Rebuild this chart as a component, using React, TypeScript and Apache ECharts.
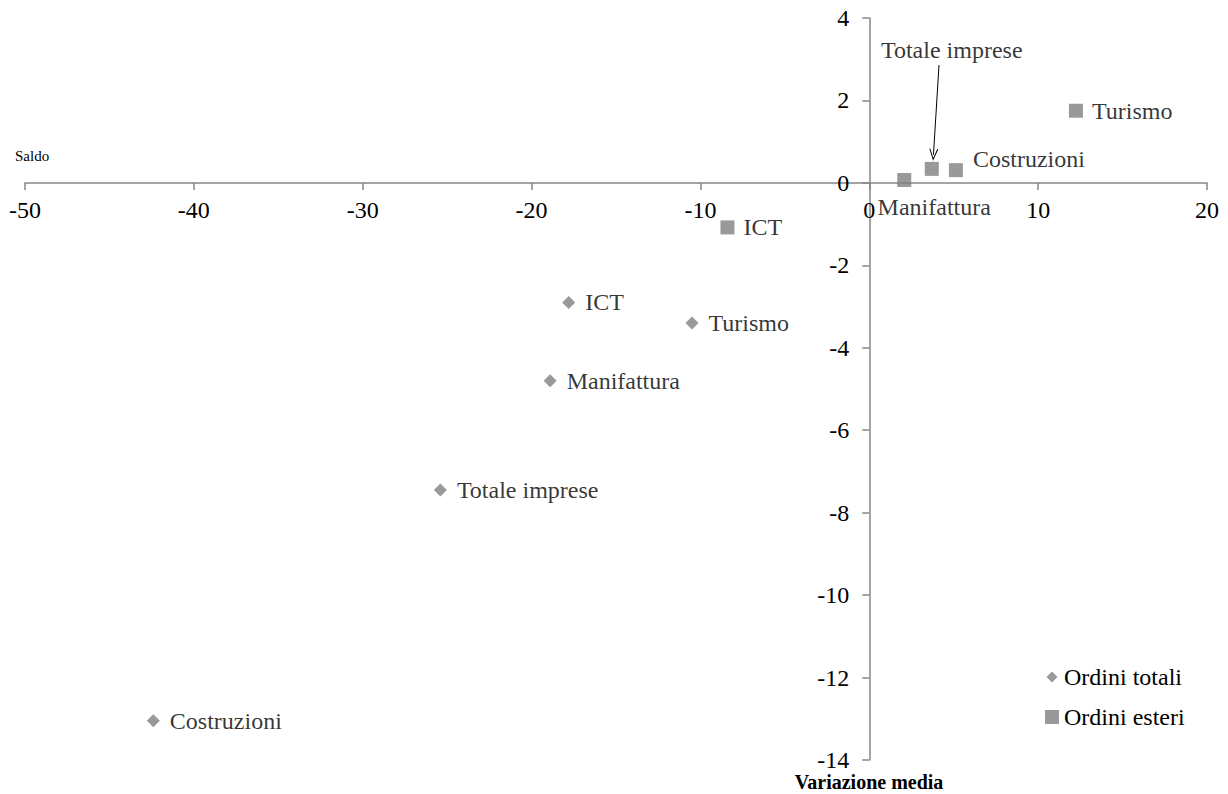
import React, { useEffect, useRef } from "react";
import * as echarts from "echarts";

const xTicks = { min: -50, max: 20, interval: 10 };
const yTicks = { min: -14, max: 4, interval: 2 };

const seriesNames = ["Ordini totali", "Ordini esteri"];

const totaliSectors = ["ICT", "Turismo", "Manifattura", "Totale imprese", "Costruzioni"];
const totaliX = [-17.8, -10.5, -18.9, -25.4, -42.4];
const totaliY = [-2.9, -3.4, -4.8, -7.45, -13.05];

const esteriSectors = ["ICT", "Manifattura", "Totale imprese", "Costruzioni", "Turismo"];
const esteriX = [-8.4, 2.07, 3.7, 5.13, 12.24];
const esteriY = [-1.08, 0.07, 0.34, 0.31, 1.75];

// annotation arrow pointing at "Totale imprese" (Ordini esteri)
const arrowFrom = [4.13, 2.86];
const arrowTo = [3.8, 0.68];

const FONT = '"Liberation Serif", "Times New Roman", serif';
const GREY = "#808080";
const AXIS = "#868686";

const GRID = { left: 25, right: 21, top: 18, bottom: 34 };
const W = 1228;
const H = 794;

const esteriLabel: Record<string, any> = {
  Manifattura: { position: "bottom", distance: 8, offset: [30, 0] },
  "Totale imprese": { position: "top", distance: 100, offset: [20, 0] },
  Costruzioni: { position: "right", distance: 10, offset: [0, -11] },
};

export default function App() {
  const ref = useRef<HTMLDivElement>(null);
  useEffect(() => {
    if (!ref.current) return;
    const chart = echarts.init(ref.current, undefined, { renderer: "svg" });
    const labelBase = {
      show: true,
      formatter: "{b}",
      color: "#000",
      fontSize: 24,
      fontFamily: FONT,
    };
    const option: any = {
      animation: false,
      textStyle: { fontFamily: FONT },
      grid: { ...GRID, containLabel: false, outerBoundsMode: "none" },
      xAxis: {
        type: "value",
        position: "bottom",
        min: xTicks.min,
        max: xTicks.max,
        interval: xTicks.interval,
        splitLine: { show: false },
        axisLine: { show: true, onZero: false, lineStyle: { color: AXIS, width: 1.5 } },
        axisTick: { show: true, length: 7, lineStyle: { color: AXIS, width: 1.5 } },
        axisLabel: { color: "#000", fontSize: 24, fontFamily: FONT, margin: 15 },
      },
      yAxis: {
        type: "value",
        position: "left",
        min: yTicks.min,
        max: yTicks.max,
        interval: yTicks.interval,
        splitLine: { show: false },
        axisLine: { show: true, onZero: false, lineStyle: { color: AXIS, width: 1.5 } },
        axisTick: { show: true, length: 7, lineStyle: { color: AXIS, width: 1.5 } },
        axisLabel: { color: "#000", fontSize: 24, fontFamily: FONT, margin: 20 },
      },
      legend: {
        orient: "vertical",
        left: 1040,
        top: 660,
        itemWidth: 14,
        itemHeight: 14,
        itemGap: 16,
        textStyle: { color: "#000", fontSize: 24, fontFamily: FONT },
        data: [
          {
            name: seriesNames[0],
            icon: "path://M0,0 M14,14 M7,1.5 L12.5,7 L7,12.5 L1.5,7 Z",
          },
          { name: seriesNames[1], icon: "rect" },
        ],
      },
      graphic: [
        {
          type: "text",
          x: 15,
          y: 156,
          style: {
            text: "Saldo",
            fill: "#000",
            font: `15px ${FONT}`,
            textAlign: "left",
            textVerticalAlign: "middle",
          },
        },
        {
          type: "text",
          x: 869,
          y: 782,
          style: {
            text: "Variazione media",
            fill: "#000",
            font: `bold 20px ${FONT}`,
            textAlign: "center",
            textVerticalAlign: "middle",
          },
        },
      ],
      series: [
        {
          name: seriesNames[0],
          type: "scatter",
          symbol: "diamond",
          symbolSize: 13,
          itemStyle: { color: GREY },
          label: { ...labelBase, position: "right", distance: 10 },
          data: totaliSectors.map((s, i) => ({ name: s, value: [totaliX[i], totaliY[i]] })),
        },
        {
          name: seriesNames[1],
          type: "scatter",
          symbol: "rect",
          symbolSize: 14,
          itemStyle: { color: GREY },
          label: { ...labelBase, position: "right", distance: 9 },
          data: esteriSectors.map((s, i) => ({
            name: s,
            value: [esteriX[i], esteriY[i]],
            label: esteriLabel[s] ? { ...labelBase, ...esteriLabel[s] } : undefined,
          })),
          markLine: {
            silent: true,
            animation: false,
            symbol: ["none", "path://M5,0 L10,10 L8.8,10 L5,2.4 L1.2,10 L0,10 Z"],
            symbolSize: [9, 12],
            label: { show: false },
            lineStyle: { color: "#000", width: 1, type: "solid" },
            emphasis: { disabled: true },
            data: [[{ coord: arrowFrom }, { coord: arrowTo }]],
          },
        },
      ],
    };
    chart.setOption(option);
    // move both axes (line, ticks and labels) onto the origin, using the chart's own scales
    const zero = chart.convertToPixel({ gridIndex: 0 }, [0, 0]) as number[];
    if (zero && isFinite(zero[0]) && isFinite(zero[1])) {
      const gridBottom = H - GRID.bottom;
      const gridLeft = GRID.left;
      chart.setOption({
        xAxis: { offset: -(gridBottom - zero[1]) },
        yAxis: { offset: -(zero[0] - gridLeft) },
      });
    }
    return () => chart.dispose();
  }, []);
  return (
    <div
      ref={ref}
      style={{ position: "absolute", left: 0, top: 0, width: W, height: H, background: "#fff" }}
    />
  );
}
